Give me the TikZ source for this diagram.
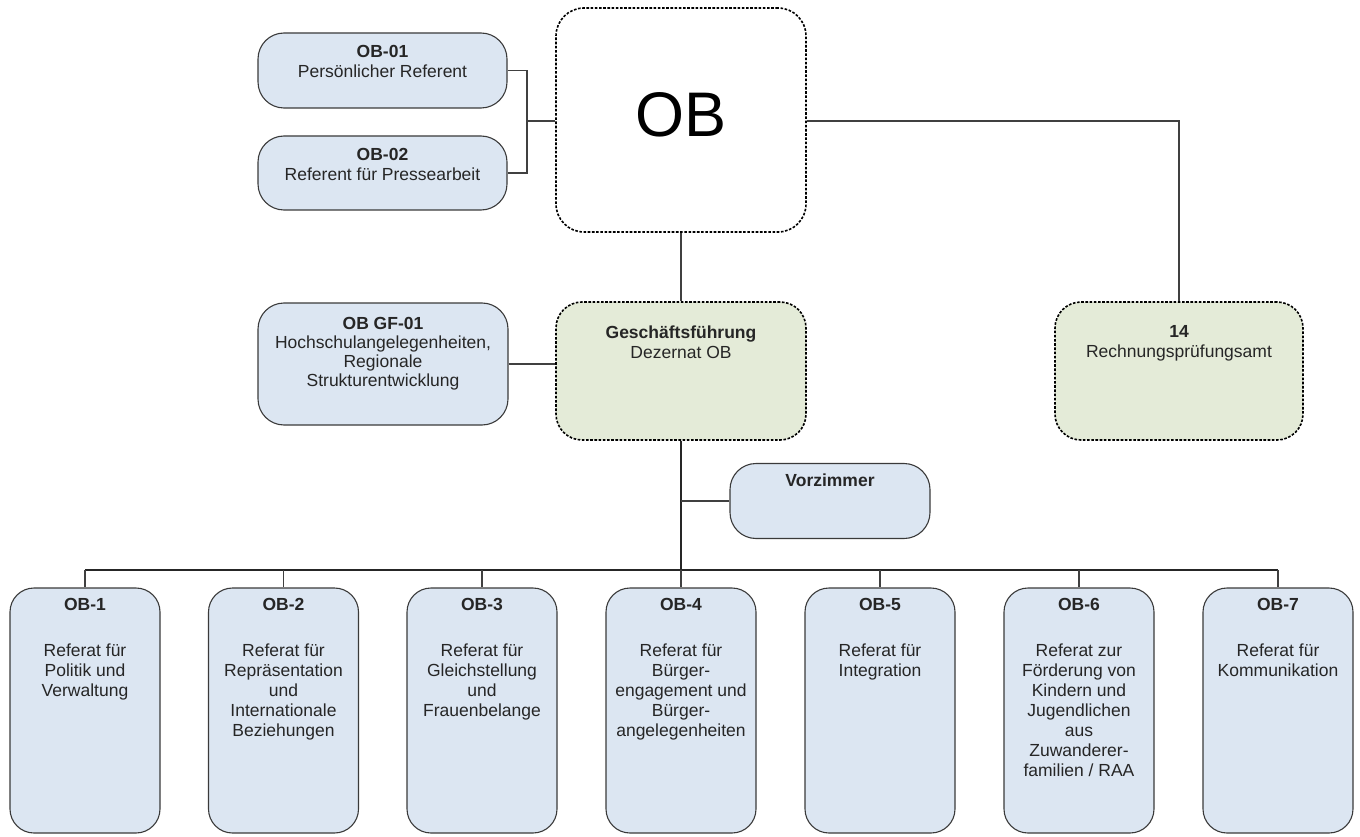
\documentclass[tikz,border=0pt]{standalone}
\usepackage{fontspec}
\setmainfont{Liberation Sans}
\definecolor{boxblue}{HTML}{DCE6F2}
\definecolor{boxgreen}{HTML}{E4EBD8}
\definecolor{boxline}{HTML}{3A3A3A}
\definecolor{linecol}{HTML}{404040}
\definecolor{textcol}{HTML}{262626}
\begin{document}
\begin{tikzpicture}[x=1pt,y=-1pt,
  bluebox/.style={draw=boxline, fill=boxblue, line width=1.1pt, rounded corners=26pt, inner sep=0pt},
  dotbox/.style={draw=black, line width=1.6pt, dash pattern=on 2.6pt off 1.6pt, rounded corners=26pt, inner sep=0pt},
  txt/.style={align=center, inner sep=0pt, anchor=north, text=textcol, font=\fontsize{17.5}{20}\selectfont},
  conn/.style={draw=linecol, line width=1.3pt},
  trunk/.style={draw=black!85, line width=2pt}
]
\useasboundingbox (0,0) rectangle (1360,837);

% top-left boxes
\node[bluebox, minimum width=249pt, minimum height=75pt] (ob01) at (382.5,70.5) {};
\node[bluebox, minimum width=249pt, minimum height=74pt] (ob02) at (382.5,173) {};
\node[txt] (ob01t) at ([yshift=-12.5pt]ob01.north) {\textbf{OB-01}\\Persönlicher Referent};
\node[txt] (ob02t) at ([yshift=-12.5pt]ob02.north) {\textbf{OB-02}\\Referent für Pressearbeit};

% OB
\node[dotbox, fill=white, minimum width=250pt, minimum height=224pt, rounded corners=28pt] (ob) at (681,120) {};
\node[inner sep=0pt, font=\fontsize{63}{70}\selectfont] (obt) at (681,115) {OB};

% second row
\node[bluebox, minimum width=250pt, minimum height=122pt] (gf01) at (383,364) {};
\node[txt] (gf01t) at ([yshift=-15pt]gf01.north) {\textbf{OB GF-01}\\[-1pt]Hochschulangelegenheiten,\\[-1pt]Regionale\\[-1pt]Strukturentwicklung};

\node[dotbox, fill=boxgreen, minimum width=250pt, minimum height=138pt] (gf) at (681,371) {};
\node[txt] (gft) at ([yshift=-24pt]gf.north) {\textbf{Geschäftsführung}\\Dezernat OB};

\node[dotbox, fill=boxgreen, minimum width=248pt, minimum height=138pt] (rpa) at (1179,371) {};
\node[txt] (rpat) at ([yshift=-24pt]rpa.north) {\textbf{14}\\Rechnungsprüfungsamt};

% Vorzimmer
\node[bluebox, minimum width=200pt, minimum height=75pt] (vz) at (830,501) {};
\node[txt] (vzt) at ([yshift=-11pt]vz.north) {\textbf{Vorzimmer}};

% bottom boxes
\tikzset{lowbox/.style={bluebox, minimum width=150pt, minimum height=245pt, rounded corners=24pt}}
\node[lowbox] (b1) at (85,710.5) {};
\node[lowbox] (b2) at (283.5,710.5) {};
\node[lowbox] (b3) at (482,710.5) {};
\node[lowbox] (b4) at (681,710.5) {};
\node[lowbox] (b5) at (880,710.5) {};
\node[lowbox] (b6) at (1079,710.5) {};
\node[lowbox] (b7) at (1278,710.5) {};

\node[txt] (b1t) at ([yshift=-11pt]b1.north) {\textbf{OB-1}\\[26pt]Referat für\\Politik und\\Verwaltung};
\node[txt] (b2t) at ([yshift=-11pt]b2.north) {\textbf{OB-2}\\[26pt]Referat für\\Repräsentation\\und\\Internationale\\Beziehungen};
\node[txt] (b3t) at ([yshift=-11pt]b3.north) {\textbf{OB-3}\\[26pt]Referat für\\Gleichstellung\\und\\Frauenbelange};
\node[txt] (b4t) at ([yshift=-11pt]b4.north) {\textbf{OB-4}\\[26pt]Referat für\\Bürger-\\engagement und\\Bürger-\\angelegenheiten};
\node[txt] (b5t) at ([yshift=-11pt]b5.north) {\textbf{OB-5}\\[26pt]Referat für\\Integration};
\node[txt] (b6t) at ([yshift=-11pt]b6.north) {\textbf{OB-6}\\[26pt]Referat zur\\Förderung von\\Kindern und\\Jugendlichen\\aus\\Zuwanderer-\\familien / RAA};
\node[txt] (b7t) at ([yshift=-11pt]b7.north) {\textbf{OB-7}\\[26pt]Referat für\\Kommunikation};

% connectors
\coordinate (br) at (527,121);
\draw[conn] (ob01.east) -| (br) |- (ob02.east);
\draw[conn] (br) -- (ob.west |- br);
\draw[conn] (ob.east |- br) -| (rpa.north);
\draw[conn] (ob.south) -- (gf.north);
\draw[conn] (gf01.east) -- (gf01.east -| gf.west);

\coordinate (bus) at (681,570);
\draw[trunk] (gf.south) -- (bus);
\draw[conn] (vz.west) -- (vz.west -| gf.south);
\draw[trunk] (b1.north |- bus) -- (b7.north |- bus);
\foreach \b in {b1,b2,b3,b4,b5,b6,b7}
  \draw[conn] (\b.north |- bus) -- (\b.north);
\end{tikzpicture}
\end{document}
